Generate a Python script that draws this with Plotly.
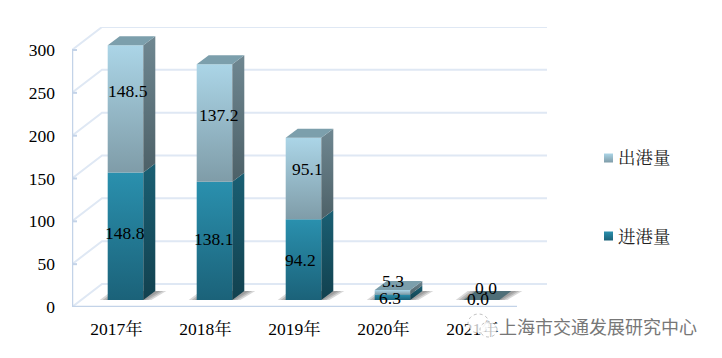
import plotly.graph_objects as go

years = ["2017年", "2018年", "2019年", "2020年", "2021年"]
inbound = [148.8, 138.1, 94.2, 6.3, 0.0]
outbound = [148.5, 137.2, 95.1, 5.3, 0.0]
y_ticks = [0, 50, 100, 150, 200, 250, 300]
in_name = "进港量"
out_name = "出港量"
watermark = "上海市交通发展研究中心"

PAGE = 8              # default page margin around the figure
W, H = 722 - PAGE, 358 - PAGE
L, R_BACK, B, T_BACK = 72, 547, 307, 27
PLOT_R = 640          # plot area reaches the legend swatches
PX_X = 89.0           # px per category
PX_Y = 257 / 300      # px per unit
FONT = "Liberation Serif, Noto Serif CJK SC, Noto Sans CJK SC, serif"

def ux(px): return px / PX_X
def uy(px): return px / PX_Y
def paper_x(px): return (px - L) / (PLOT_R - L)
def paper_y(px): return (B - px) / (B - T_BACK)

X_END = ux(R_BACK - L)
Y_MAX = uy(B - T_BACK)
WALL_DX, WALL_DY = ux(30), uy(23)
BAR_DX, BAR_DY = ux(9), uy(7)
SIDE_DX, SIDE_DY = ux(12), uy(9)
BAR_W = 0.4

fig = go.Figure()

def poly(xs, ys, top=None, bottom=None, color=None):
    t = dict(x=xs + xs[:1], y=ys + ys[:1], mode="lines", line=dict(width=0),
             fill="toself", hoverinfo="skip", showlegend=False)
    if color:
        t["fillcolor"] = color
    else:
        t["fillgradient"] = dict(type="vertical", colorscale=[[0, bottom], [1, top]])
    fig.add_trace(go.Scatter(**t))

GRID = "#dfe8f4"
AXIS = "#c3d3e8"
# wall and floor
for v in y_ticks:
    fig.add_trace(go.Scatter(x=[0, WALL_DX, X_END], y=[v, v + WALL_DY, v + WALL_DY], mode="lines",
                             line=dict(color=GRID, width=2), hoverinfo="skip", showlegend=False))
fig.add_trace(go.Scatter(x=[0, X_END - WALL_DX], y=[0, 0], mode="lines",
                         line=dict(color=AXIS, width=2.5), hoverinfo="skip", showlegend=False))

# soft shadows on the floor
for i in range(5):
    x0 = i + 0.5 + BAR_DX - BAR_W / 2
    x1 = x0 + BAR_W
    for grow in (8, 5, 2):
        poly([x0 - ux(grow), x1 + ux(grow), x1 + SIDE_DX + ux(3 + grow), x0 + SIDE_DX - ux(grow)],
             [BAR_DY, BAR_DY, BAR_DY + SIDE_DY, BAR_DY + SIDE_DY], color="rgba(60,60,60,0.2)")

FACES = {
    "in": dict(front=("#2a90ae", "#1b6279"), side=("#1a5f73", "#12414f")),
    "out": dict(front=("#abd5e7", "#7f9ca8"), side=("#6f8791", "#4d6168")),
}
for i in range(5):
    x0 = i + 0.5 + BAR_DX - BAR_W / 2
    x1 = x0 + BAR_W
    y0 = BAR_DY
    for key, v in (("in", inbound[i]), ("out", outbound[i])):
        y1 = y0 + v
        if v > 0:
            f = FACES[key]
            poly([x0, x1, x1, x0], [y0, y0, y1, y1], top=f["front"][0], bottom=f["front"][1])
            poly([x1, x1 + SIDE_DX, x1 + SIDE_DX, x1], [y0, y0 + SIDE_DY, y1 + SIDE_DY, y1],
                 top=f["side"][0], bottom=f["side"][1])
        y0 = y1
    top_col = "#7c9fac" if y0 > BAR_DY else "#4f6f78"
    poly([x0, x1, x1 + SIDE_DX, x0 + SIDE_DX], [y0, y0, y0 + SIDE_DY, y0 + SIDE_DY], color=top_col)

# legend: native text entries, swatches placed just before the text
for name, c0, c1, sy in ((out_name, "#abd5e7", "#7f9ca8", 158), (in_name, "#2a90ae", "#1b6279", 236)):
    fig.add_trace(go.Scatter(x=[None], y=[None], mode="markers", name=name, legendgroup=name,
                             marker=dict(symbol="square", size=9, color="rgba(0,0,0,0)")))
    fig.add_trace(go.Scatter(x=[ux(608.5 - L)], y=[uy(B - sy)], mode="markers", cliponaxis=False,
                             hoverinfo="skip", showlegend=False,
                             marker=dict(symbol="square", size=9, color=c0, line=dict(width=0),
                                         gradient=dict(type="vertical", color=c1))))

# data labels (x, y shift in px)
in_shift = [(-1, 3), (-1, 2), (-3, 0), (-3, -1), (-23, 1)]
out_shift = [(2, 18), (4, 8), (4, 10), (0, 11), (-15, 12)]
for i in range(5):
    cx = i + 0.5 + BAR_DX
    base = BAR_DY
    for v, (sx, sy) in ((inbound[i], in_shift[i]), (outbound[i], out_shift[i])):
        fig.add_annotation(x=cx + (0.22 if i == 4 else 0), y=base + v / 2, text=f"{v:.1f}", showarrow=False,
                           xshift=sx, yshift=sy, font=dict(family=FONT, size=17.5, color="#000"))
        base += v

# watermark
for (x0, x1, y0, y1) in ((468, 489, 314, 333), (480, 497, 322, 337)):
    fig.add_shape(type="circle", xref="paper", yref="paper", x0=paper_x(x0), x1=paper_x(x1),
                  y0=paper_y(y1), y1=paper_y(y0), fillcolor="rgba(255,255,255,0.75)",
                  line=dict(color="rgba(130,130,130,0.5)", width=1, dash="dot"), layer="above")
fig.add_annotation(xref="paper", yref="paper", x=paper_x(699), y=paper_y(326),
                   xanchor="right", yanchor="middle", text=watermark, showarrow=False,
                   font=dict(family="Noto Sans CJK SC", size=18, color="#777777",
                             shadow="0 0 3px #ffffff"))

fig.update_layout(
    width=W, height=H, autosize=False, paper_bgcolor="#fff", plot_bgcolor="rgba(0,0,0,0)",
    margin=dict(l=L - PAGE, r=W - (PLOT_R - PAGE), t=T_BACK - PAGE, b=H - (B - PAGE), pad=0),
    font=dict(family=FONT, size=17.5, color="#000"),
    legend=dict(x=paper_x(578), y=paper_y(139), xanchor="left", yanchor="top",
                tracegroupgap=54, font=dict(family=FONT, size=17.5, color="#222"), bgcolor="rgba(0,0,0,0)",
                itemsizing="constant"),
    showlegend=True,
    xaxis=dict(range=[0, ux(PLOT_R - L)], tickmode="array", tickvals=[i + 0.5 for i in range(5)], ticktext=years,
               showgrid=False, zeroline=False, showline=False, ticks="", ticklabelstandoff=9, fixedrange=True),
    yaxis=dict(range=[0, Y_MAX], tickmode="array", tickvals=y_ticks, showgrid=False, zeroline=False,
               showline=False, ticks="", ticklabelstandoff=16, fixedrange=True),
)
# front axis line and inner ticks
fig.add_trace(go.Scatter(x=[0, 0], y=[0, 300], mode="lines", line=dict(color=AXIS, width=2.5),
                         hoverinfo="skip", showlegend=False))
for v in y_ticks:
    fig.add_trace(go.Scatter(x=[0, ux(5)], y=[v, v], mode="lines", line=dict(color=AXIS, width=2),
                             hoverinfo="skip", showlegend=False))

fig.write_html("out.html")
